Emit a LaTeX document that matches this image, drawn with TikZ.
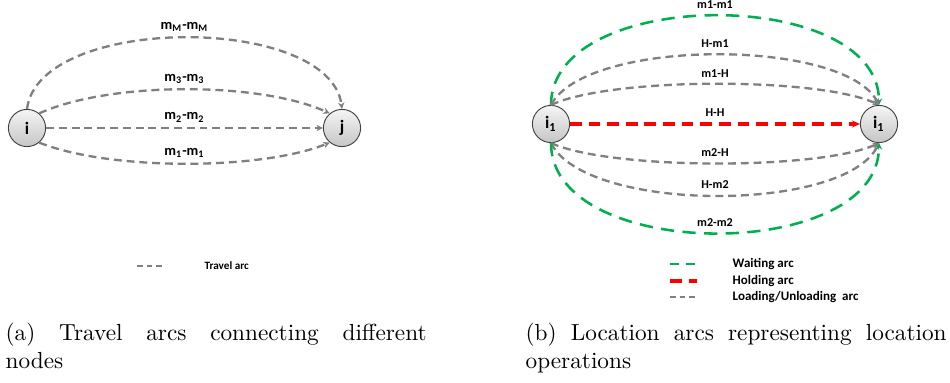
\documentclass[tikz,border=0pt]{standalone}
\usepackage{fontspec}
\newfontfamily\calibri{Carlito}
\usepackage{tikz}
\usetikzlibrary{arrows.meta,automata,positioning,calc}
\definecolor{arcgray}{RGB}{128,128,128}
\definecolor{arcgreen}{RGB}{0,176,80}
\definecolor{arcred}{RGB}{255,0,0}

\begin{document}
\begin{tikzpicture}[x=0.43pt, y=-0.43pt, ->, >={Stealth[length=2.8pt,width=2.8pt]}, auto, semithick]
\tikzstyle{every state}=[top color=gray!8,bottom color=gray!45,draw=gray!50!black,thin,text=black,minimum size=16pt,inner sep=0pt,font=\calibri\bfseries\fontsize{7.5}{8}\selectfont]
\tikzstyle{travel}=[arcgray,line width=1pt,dash pattern=on 3.4pt off 2.1pt]
\tikzstyle{waiting}=[arcgreen,line width=1.1pt,dash pattern=on 5.7pt off 3.6pt]
\tikzstyle{holding}=[arcred,line width=1.3pt,dash pattern=on 5pt off 3pt,-{Stealth[length=3.4pt,width=3pt,inset=1.2pt]}]
\tikzstyle{lbl}=[black,inner sep=2.4pt,font=\calibri\bfseries\fontsize{5.2}{6}\selectfont]
\tikzstyle{sublbl}=[lbl,inner sep=2pt,font=\calibri\bfseries\fontsize{6.2}{7}\selectfont]
\tikzstyle{legend}=[black,anchor=west,inner sep=0pt,font=\calibri\bfseries\fontsize{5.6}{6}\selectfont]
\tikzstyle{caption}=[black,anchor=north west,inner sep=0pt,text width=181pt,align=justify,font=\fontsize{10}{12}\selectfont]

\useasboundingbox (0,0) rectangle (950,383);

% (a) travel arcs
\node[state]    (i)  at (27,128)    {i};
\node[state]    (j)  at (342,128)   {j};
\path
(i.north) edge[travel, controls={+(12,-95) and +(-12,-95)}]  node[sublbl]{m\textsubscript{M}-m\textsubscript{M}}  (j.north)
(i.50)    edge[travel, controls={+(70,-32) and +(-70,-32)}]  node[sublbl]{m\textsubscript{3}-m\textsubscript{3}}  (j.130)
(i)       edge[travel]                                       node[sublbl]{m\textsubscript{2}-m\textsubscript{2}}  (j)
(i.-50)   edge[travel, controls={+(70,28) and +(-70,28)}]    node[sublbl]{m\textsubscript{1}-m\textsubscript{1}}  (j.-130);

% (b) location arcs
\node[state]    (l)  at (551,124)   {i\textsubscript{1}};
\node[state]    (r)  at (879,124)   {i\textsubscript{1}};
\path
(l.north) edge[waiting, controls={+(0,-119) and +(0,-119)}]  node[lbl]{m1-m1}  (r.north)
(l.north) edge[travel, controls={+(35,-67) and +(-35,-67)}]  node[lbl]{H-m1}   (r.north)
(l.north) edge[travel, controls={+(60,-28) and +(-60,-28)}]  node[lbl]{m1-H}   (r.north)
(l)       edge[holding]                                      node[lbl]{H-H}    (r)
(l.south) edge[travel, controls={+(60,27) and +(-60,27)}]    node[lbl]{m2-H}   (r.south)
(l.south) edge[travel, controls={+(35,70) and +(-35,70)}]    node[lbl]{H-m2}   (r.south)
(l.south) edge[waiting, controls={+(0,120) and +(0,120)}]    node[lbl]{m2-m2}  (r.south);

% legends
\coordinate (ta) at (137,266);
\coordinate (tb) at (163,266);
\draw[travel, -, line width=0.9pt, dash pattern=on 2.5pt off 1.6pt] (ta) -- (tb);
\node[legend, font=\calibri\bfseries\fontsize{4.8}{6}\selectfont] (ttxt) at (204,266) {Travel arc};

\coordinate (wa) at (670,264);
\coordinate (wb) at (695,264);
\coordinate (ha) at (670,281);
\coordinate (hb) at (697,281);
\coordinate (ga) at (670,297);
\coordinate (gb) at (695,297);
\draw[waiting, -, dash pattern=on 3.9pt off 3pt] (wa) -- (wb);
\draw[holding, -, dash pattern=on 5pt off 3pt] (ha) -- (hb);
\draw[travel, -, dash pattern=on 2.5pt off 1.6pt] (ga) -- (gb);
\node[legend] (wtxt) at (732,264) {Waiting arc};
\node[legend] (htxt) at (732,281) {Holding arc};
\node[legend] (gtxt) at (732,297) {Loading/Unloading~ arc};

% captions
\node[caption] (capa) at (5,322)   {(a) Travel arcs connecting different\linebreak nodes};
\node[caption] (capb) at (525,322) {(b) Location arcs representing location\linebreak operations};

\end{tikzpicture}
\end{document}
